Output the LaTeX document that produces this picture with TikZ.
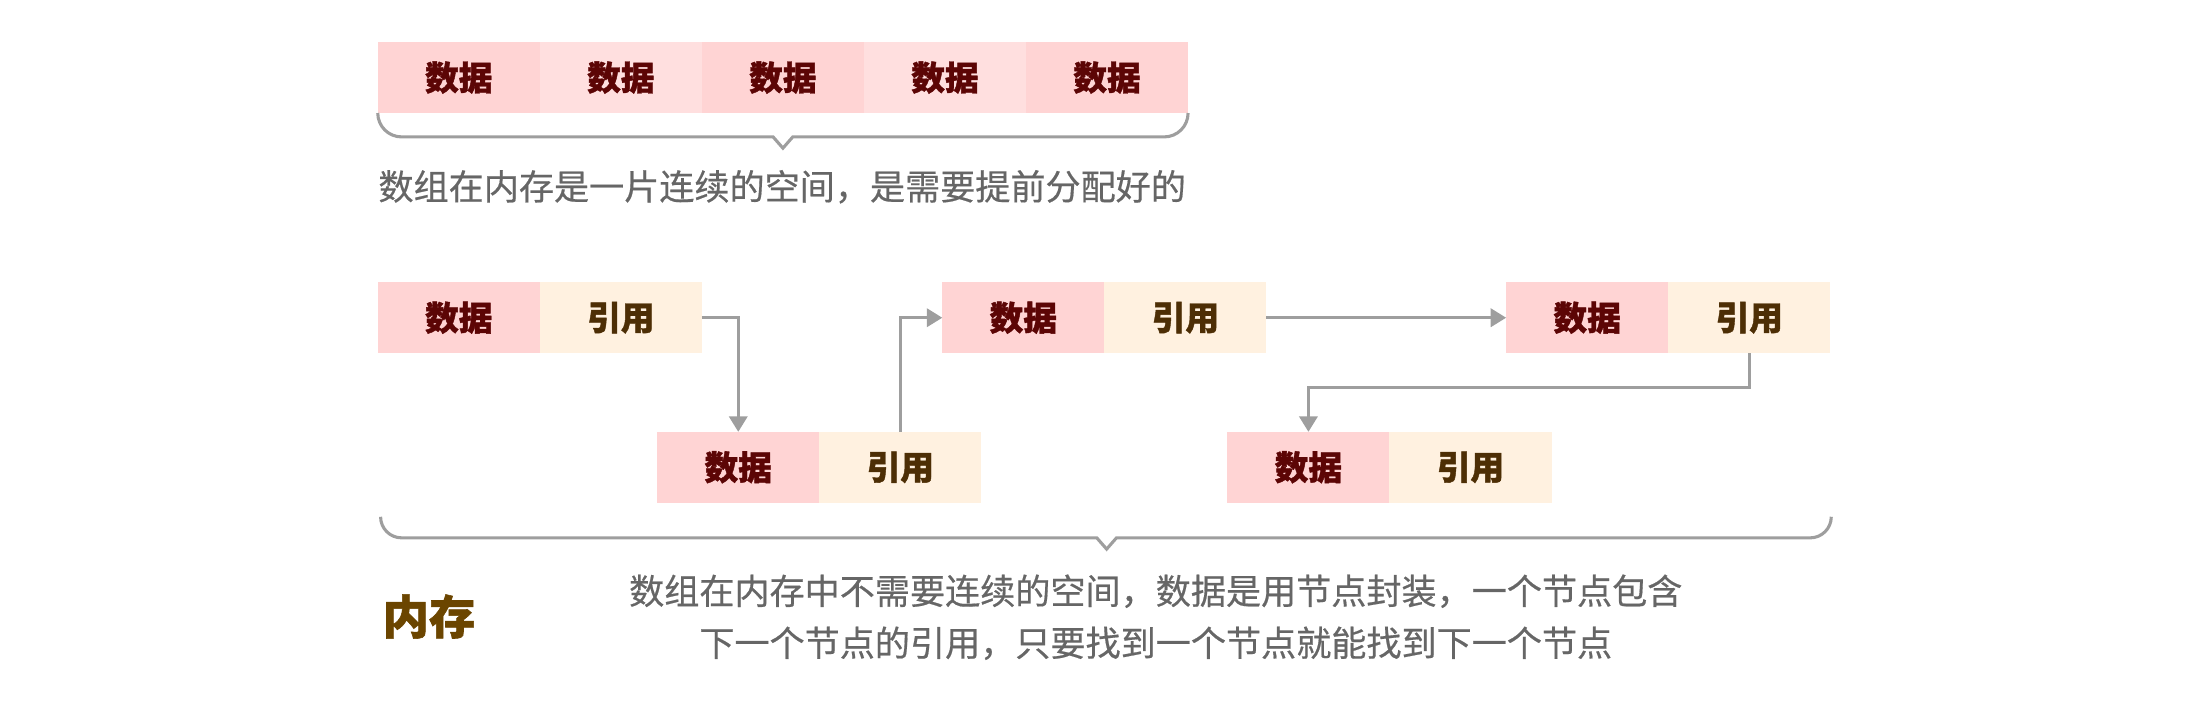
\documentclass[tikz,border=0pt]{standalone}
\usepackage{fontspec}
\newfontfamily\cjk[BoldFeatures={FakeBold=1.2}]{Noto Sans CJK SC}
\newfontfamily\cjkm[FakeBold=0.5]{Noto Sans CJK SC}
\usetikzlibrary{arrows.meta,calc}
\definecolor{pinkA}{HTML}{FFD4D4}
\definecolor{pinkB}{HTML}{FFDFDF}
\definecolor{cream}{HTML}{FFF1E0}
\definecolor{datatxt}{HTML}{5C0505}
\definecolor{reftxt}{HTML}{4D2E05}
\definecolor{memtxt}{HTML}{6B4500}
\definecolor{captxt}{HTML}{666666}
\definecolor{linegray}{HTML}{9E9E9E}
\tikzset{
  cell/.style={minimum width=115.4pt, minimum height=50.5pt, inner sep=0pt, outer sep=0pt,
    font=\cjk\bfseries\fontsize{24}{28}\selectfont, anchor=north west},
  datacell/.style={cell, fill=pinkA, text=datatxt},
  datacellB/.style={cell, fill=pinkB, text=datatxt},
  refcell/.style={cell, fill=cream, text=reftxt},
  conn/.style={draw=linegray, line width=2pt, -{Triangle[length=11pt,width=13pt]}},
  bracepath/.style={draw=linegray, line width=2.2pt, line join=miter},
  caption/.style={font=\cjkm\fontsize{25}{37}\selectfont, text=captxt, inner sep=0pt, align=center},
  memlabel/.style={font=\cjk\bfseries\fontsize{33}{36}\selectfont, text=memtxt, inner sep=0pt},
}
\begin{document}
\begin{tikzpicture}[x=1pt,y=-1pt]
\useasboundingbox (0,0) rectangle (1568,502);
% contiguous array
\node[datacell]  (a1) at (269,30) {数据};
\node[datacellB] (a2) at (384.4,30) {数据};
\node[datacell]  (a3) at (499.8,30) {数据};
\node[datacellB] (a4) at (615.2,30) {数据};
\node[datacell]  (a5) at (730.6,30) {数据};
\draw[bracepath] (a1.south west) arc[start angle=180,end angle=90,radius=17]
  -- ($(a3.south)+(-7,17)$) -- ($(a3.south)+(0,25)$) -- ($(a3.south)+(7,17)$)
  -- ($(a5.south east)+(-17,17)$) arc[start angle=90,end angle=0,radius=17];
\node[caption] (c1) at (557,133) {数组在内存是一片连续的空间，是需要提前分配好的};
% linked list
\node[datacell] (n1d) at (269,201) {数据};
\node[refcell]  (n1r) at (384.4,201) {引用};
\node[datacell] (n2d) at (468,307.5) {数据};
\node[refcell]  (n2r) at (583.4,307.5) {引用};
\node[datacell] (n3d) at (671,201) {数据};
\node[refcell]  (n3r) at (786.4,201) {引用};
\node[datacell] (n4d) at (1072.5,201) {数据};
\node[refcell]  (n4r) at (1187.9,201) {引用};
\node[datacell] (n5d) at (874,307.5) {数据};
\node[refcell]  (n5r) at (989.4,307.5) {引用};
\draw[conn] (n1r.east) -| (n2d.north);
\draw[conn] (n2r.north) |- (n3d.west);
\draw[conn] (n3r.east) -- (n4d.west);
\draw[conn] (n4r.south) -- ++(0,24.5) -| (n5d.north);
\coordinate (bl) at (271,368);
\coordinate (br) at (1304,368);
\draw[bracepath] (bl) arc[start angle=180,end angle=90,radius=15]
  -- (781,383) -- (788,391) -- (795,383)
  -- ($(br)+(-15,15)$) arc[start angle=90,end angle=0,radius=15];
\node[memlabel] (mem) at (305.5,439) {内存};
\node[caption] (c2) at (823,439.5) {数组在内存中不需要连续的空间，数据是用节点封装，一个节点包含\\下一个节点的引用，只要找到一个节点就能找到下一个节点};
\end{tikzpicture}
\end{document}
